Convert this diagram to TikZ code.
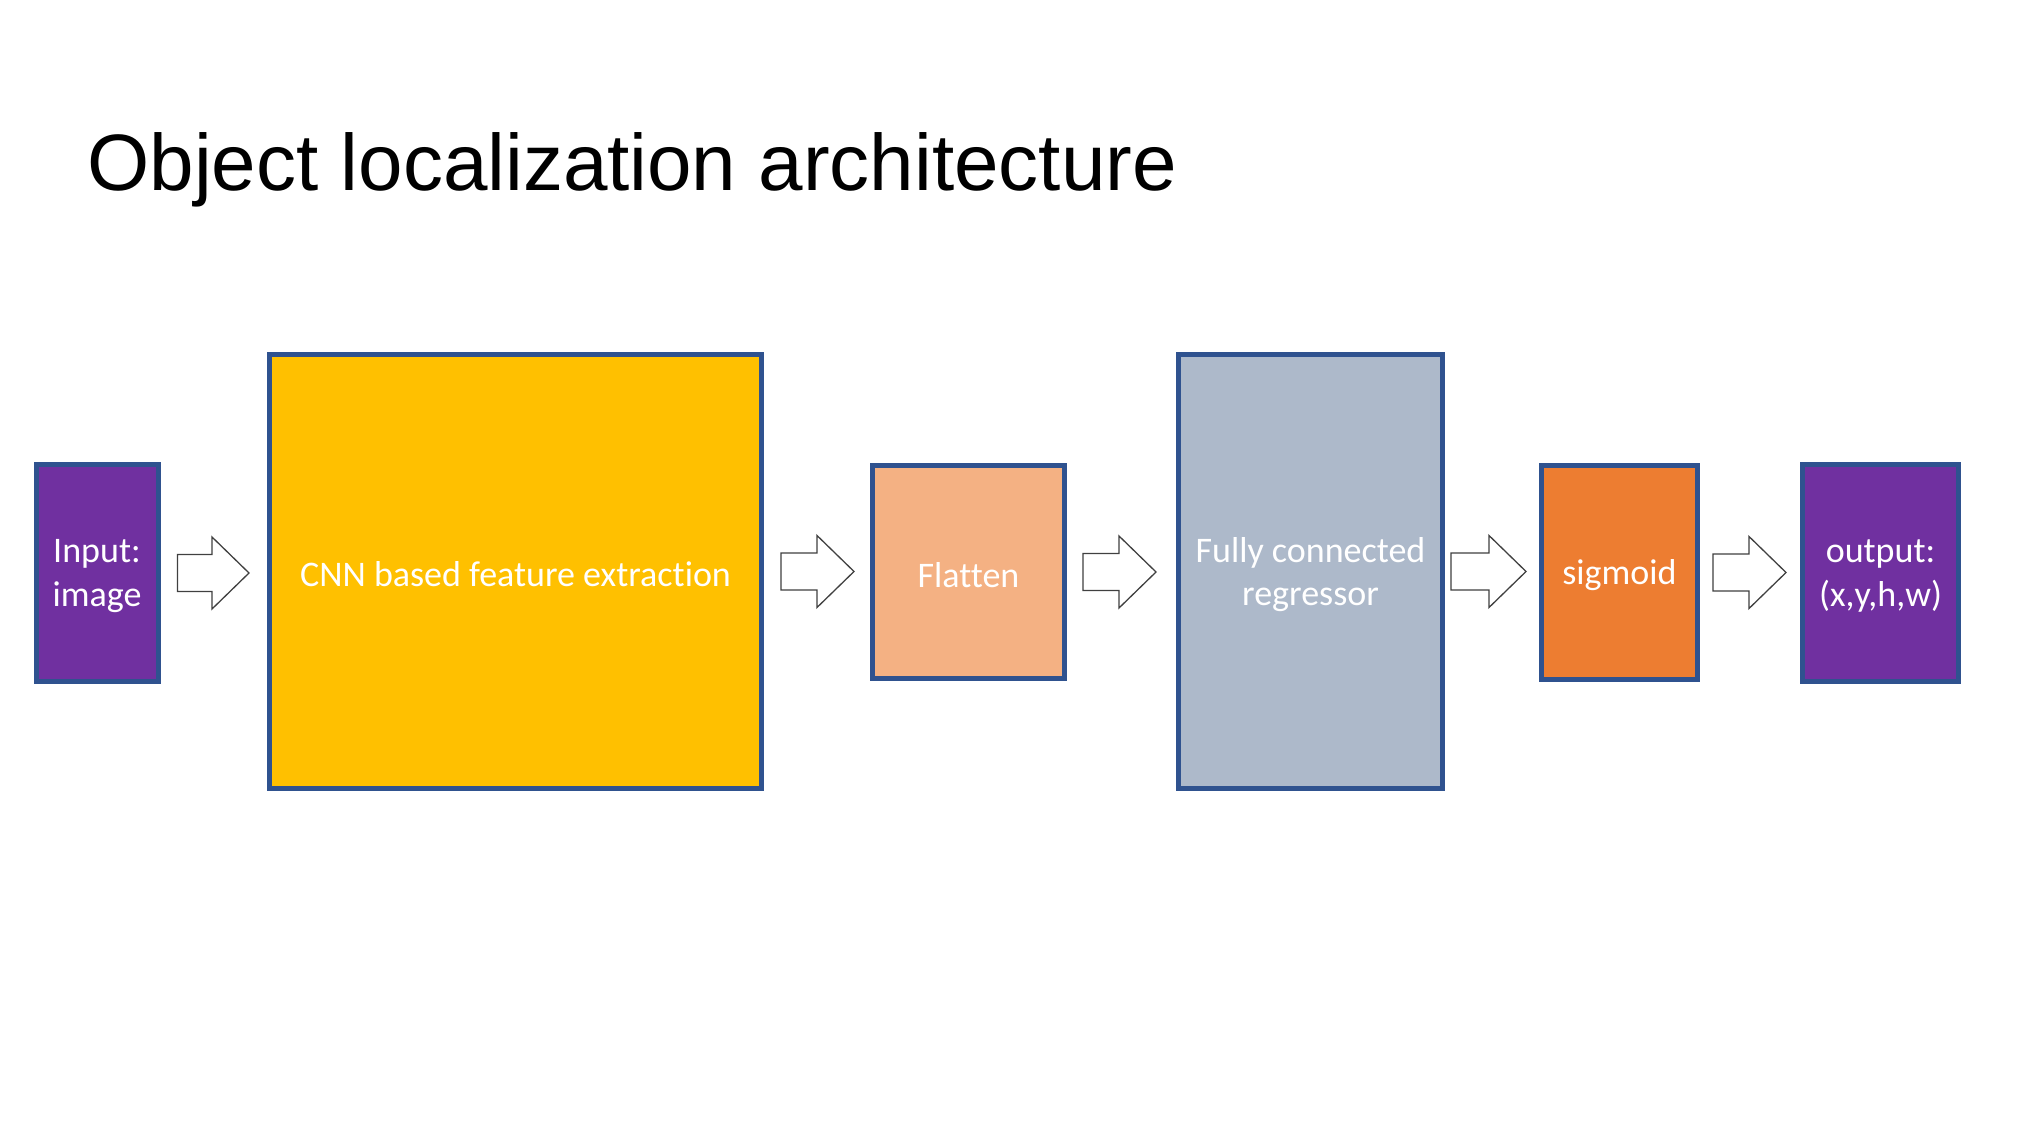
\documentclass[tikz,border=0pt]{standalone}
\usepackage{fontspec}
\setmainfont{Carlito}[Ligatures={NoCommon}]
\newfontfamily\titlefont{Liberation Sans}
\usetikzlibrary{calc}
\definecolor{bordblue}{HTML}{2F528F}
\definecolor{purp}{HTML}{7030A0}
\definecolor{gold}{HTML}{FFC000}
\definecolor{peach}{HTML}{F4B183}
\definecolor{bluegray}{HTML}{ADB9CA}
\definecolor{orng}{HTML}{ED7D31}
\newcommand\blockarrow[4]{%
  \draw[blockarrow] let \p1=($(#1.east)+(#3,0)$), \p2=($(#2.west)-(#4,0)$) in
    (\x1,\y1+9.25pt) -- (\x2-18.5pt,\y1+9.25pt) -- (\x2-18.5pt,\y1+18pt) -- (\x2,\y1)
    -- (\x2-18.5pt,\y1-18pt) -- (\x2-18.5pt,\y1-9.25pt) -- (\x1,\y1-9.25pt) -- cycle;}
\begin{document}
\begin{tikzpicture}[x=0.5pt,y=-0.5pt,
  box/.style={draw=bordblue, line width=2.5pt, inner sep=0pt},
  boxtext/.style={text=white, align=center, inner sep=0pt, yshift=-1.5pt,
    font=\fontsize{18}{21.6}\selectfont},
  blockarrow/.style={draw=black!75, fill=white, line width=0.65pt, line join=miter}]
\fill[white] (0,0) rectangle (2038,1138);
\useasboundingbox (0,0) rectangle (2038,1138);
\node[anchor=base west, font=\titlefont\fontsize{40}{48}\selectfont, inner sep=0pt] (title) at (87,191) {Object localization architecture};
\node[box, fill=purp, minimum width=61pt, minimum height=108.5pt,
  label={[boxtext]center:{Input:\\image}}] (in) at (97,573) {};
\node[box, fill=gold, minimum width=246pt, minimum height=217pt,
  label={[boxtext]center:{CNN based feature extraction}}] (cnn) at (515.5,571.5) {};
\node[box, fill=peach, minimum width=96pt, minimum height=106.5pt,
  label={[boxtext]center:{Flatten}}] (flat) at (968.5,572) {};
\node[box, fill=bluegray, minimum width=132pt, minimum height=217pt,
  label={[boxtext]center:{Fully connected\\regressor}}] (fc) at (1310.5,571.5) {};
\node[box, fill=orng, minimum width=78pt, minimum height=107pt,
  label={[boxtext]center:{sigmoid}}] (sig) at (1619.5,572.5) {};
\node[box, fill=purp, minimum width=78pt, minimum height=108pt,
  label={[boxtext]center:{output:\\(x,y,h,w)}}] (out) at (1880.5,573) {};
\blockarrow{in}{cnn}{17}{18}
\blockarrow{cnn}{flat}{17}{16}
\blockarrow{flat}{fc}{16}{20}
\blockarrow{fc}{sig}{6}{13}
\blockarrow{sig}{out}{13}{14}
\end{tikzpicture}
\end{document}
